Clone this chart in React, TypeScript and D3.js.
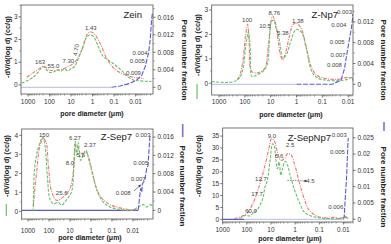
import * as d3 from "d3";

const FONT = "'Liberation Sans', Arial, sans-serif";
const RED = "#f47272";
const GREEN = "#62c462";
const BLUE = "#5a5ad8";
const LAVENDER = "#c6c6f0";

const xTicks = [1000, 100, 10, 1, 0.1, 0.01];
const xTickLabels = ["1000", "100", "10", "1", "0.1", "0.01"];

// Zein
const zeinRed = [[1150, 0.34], [570, 0.54], [230, 0.79], [190, 0.84], [95, 0.65], [33, 0.67], [11, 0.85], [5.4, 1.1], [2.7, 1.69], [1.86, 2.2], [1.3, 2.33], [0.9, 2.28], [0.45, 1.84], [0.22, 1.17], [0.1, 0.73], [0.037, 0.48], [0.0126, 0.34], [0.004, 0.28]];
const zeinGreen = [[1950, 0.08], [570, 0.34], [230, 0.75], [190, 0.8], [135, 0.65], [95, 0.55], [60, 0.58], [40, 0.66], [30, 0.6], [20, 0.7], [14, 0.62], [10, 0.72], [7, 0.8], [5.4, 1.0], [3.2, 1.55], [2, 2.06], [1.4, 2.2], [0.9, 2.13], [0.54, 1.69], [0.32, 1.25], [0.19, 1.1], [0.09, 0.88], [0.044, 0.63], [0.021, 0.34], [0.0126, 0.22], [0.0063, 0.18], [0.0018, 0.15]];
const zeinBlue = [[0.13, 0], [0.052, 0.0003], [0.018, 0.0009], [0.0087, 0.0017], [0.0051, 0.0028], [0.0036, 0.0047], [0.0025, 0.0078], [0.0021, 0.0108], [0.0018, 0.0154], [0.00165, 0.017]];
const zeinBase = [[2120, 0], [0.13, 0]];
const zeinNotes = [["163", 275, 1.0, 0], ["55.0", 66, 0.84, 0], ["7.30", 13.5, 1.06, 0], ["4.70", 5.9, 1.54, -80], ["1.43", 1.2, 2.52, 0], ["0.004", 0.0062, 1.4, 0], ["0.005", 0.0083, 1.06, 0], ["0.009", 0.0126, 0.54, 0]];

// Z-Np7
const np7Red = [[200, 0.15], [163, 0.27], [120, 0.9], [95, 1.9], [78, 2.42], [68, 1.6], [61, 0.6], [50, 0.45], [32, 0.43], [17, 0.6], [13, 1.3], [9.5, 2.58], [8.4, 2.75], [6.2, 2.38], [5.0, 1.63], [4.0, 1.09], [3.4, 0.95], [2.7, 1.22], [1.9, 1.9], [1.4, 2.38], [1.05, 2.47], [0.66, 2.24], [0.42, 1.5], [0.27, 0.68], [0.17, 0.34], [0.083, 0.2], [0.025, 0.16], [0.0103, 0.24], [0.0066, 0.2]];
const np7Green = [[1900, 0.07], [257, 0.07], [141, 0.33], [89, 1.63], [73, 2.1], [61, 1.36], [53, 0.27], [37, 0.33], [20, 0.48], [13.8, 0.74], [11.2, 1.77], [9.5, 2.5], [7.6, 2.58], [6.2, 2.24], [5, 1.97], [4.2, 1.5], [3.4, 1.02], [2.5, 1.16], [1.6, 1.77], [1.05, 2.2], [0.66, 2.1], [0.42, 1.43], [0.27, 0.54], [0.17, 0.24], [0.083, 0.13], [0.025, 0.1], [0.0103, 0.16], [0.0076, 0.24], [0.0065, 0.1]];
const np7Blue = [[1.0, 0], [0.04, 0], [0.034, 0.0002], [0.019, 0.0008], [0.014, 0.0029], [0.012, 0.005], [0.0103, 0.0069], [0.0089, 0.0087], [0.0076, 0.0106], [0.0068, 0.0125], [0.0066, 0.0135]];
const np7Base = [[1920, 0], [1.0, 0]];
const np7Notes = [["100", 82, 2.61, 0], ["10.5", 16.5, 2.34, 0], ["8.76", 7.2, 2.88, 0], ["5.38", 3.4, 2.04, 0], ["1.38", 0.89, 2.55, 0], ["0.003", 0.0139, 2.92, 0], ["0.004", 0.0229, 2.38, 0], ["0.005", 0.0267, 1.7, 0], ["0.007", 0.025, 1.16, 0], ["0.008", 0.034, 0.75, 0]];

// Z-Sep7
const sep7Red = [[560, 0.3], [388, 2.07], [268, 3.47], [186, 3.82], [139, 3.65], [107, 2.42], [74, 1.02], [43, 0.58], [21, 0.75], [10, 1.19], [6.9, 2.07], [5.2, 3.56], [4.0, 3.3], [2.75, 3.03], [1.94, 3.16], [1.5, 3.03], [0.93, 2.24], [0.54, 1.19], [0.31, 0.7], [0.125, 0.35], [0.042, 0.18], [0.014, 0.09], [0.0066, 0.08]];
const sep7Green = [[570, 0], [540, 1.0], [500, 2.07], [360, 3.14], [200, 3.9], [155, 3.47], [120, 1.88], [89, 0.61], [62, 0.4], [36, 0.47], [25, 0.33], [14.5, 0.61], [8.3, 1.05], [6.5, 2.6], [5.6, 3.68], [4.8, 2.95], [4.0, 3.61], [3.1, 2.68], [2.35, 2.95], [1.74, 3.21], [1.29, 2.77], [0.78, 1.81], [0.45, 0.93], [0.26, 0.49], [0.125, 0.23], [0.042, 0.1], [0.0115, 0.05], [0.0047, 0.28], [0.0032, 0.35], [0.0022, 0.23], [0.00155, 0.35], [0.0012, 0.28]];
const sep7Blue = [[0.0056, 0], [0.0047, 0.0032], [0.0042, 0.0048], [0.0038, 0.004], [0.0035, 0.0058], [0.0027, 0.0066], [0.0022, 0.0091], [0.0019, 0.0098], [0.00155, 0.016], [0.0014, 0.0164]];
const sep7Base = [[2000, 0], [0.0056, 0]];
const sep7Notes = [["150", 173, 4.03, 0], ["25.6", 24.8, 0.98, 0], ["6.27", 5.8, 3.86, 0], ["8.0", 10, 2.56, 0], ["5.6", 3.0, 2.98, 0], ["2.37", 1.12, 3.51, 0], ["0.003", 0.0033, 4.03, 0], ["0.005", 0.0042, 2.56, 0], ["0.007", 0.0056, 1.68, 0], ["0.008", 0.029, 0.98, 0]];
const sep7Arrows = [[0.0089, 1.07, 0.0043, 1.38]];

// Z-SepNp7
const sepNp7Red = [[330, 0.28], [127, 1.7], [93, 2.8], [49, 8.0], [26, 16.4], [16.3, 24.1], [11.8, 30.4], [9.5, 33.9], [7.4, 33.2], [5.4, 28.3], [3.9, 24.8], [2.8, 25.5], [2.05, 27.6], [1.5, 27.2], [1.02, 22.7], [0.68, 15.7], [0.42, 8.7], [0.26, 3.8], [0.12, 1.26], [0.045, 0.56], [0.024, 0.84], [0.015, 0.4], [0.0093, 0.84], [0.0058, 0.3]];
const sepNp7Green = [[200, 0.2], [109, 1.7], [75, 1.4], [49, 3.1], [36, 4.2], [22, 8.7], [17.7, 13.6], [14.8, 15.7], [13, 18.5], [10.7, 25.5], [8.6, 31.8], [7.4, 31.1], [6.3, 25.5], [5.4, 21.3], [4.6, 24.1], [3.9, 18.5], [3.3, 21.3], [2.6, 24.4], [2.05, 22.7], [1.6, 18.5], [1.1, 12.9], [0.68, 7.3], [0.42, 3.1], [0.22, 1.4], [0.087, 0.56], [0.033, 0.28], [0.013, 0.4], [0.008, 1.26], [0.0064, 0.3]];
const sepNp7Blue = [[0.0099, 0], [0.0093, 0.0007], [0.0087, 0.0043], [0.0079, 0.0094], [0.0072, 0.0145], [0.0068, 0.0196], [0.0064, 0.0242], [0.0062, 0.0249]];
const sepNp7Base = [[1000, 0], [130, 0]];
const sepNp7Base2 = [[130, 0], [0.0099, 0]];
const sepNp7Notes = [["9.0", 9.1, 35.0, 0], ["2.5", 1.6, 31.1, 0], ["5.6", 4.55, 26.6, 0], ["12.7", 26, 16.8, 0], ["17.7", 38, 10.5, 0], ["60.0", 67, 3.4, 0], ["4.5", 0.23, 16.0, 0], ["0.003", 0.0148, 35.6, 0], ["0.005", 0.0177, 28.3, 0], ["0.006", 0.0207, 5.2, 0]];
const sepNp7Arrows = [[2.1, 16.4, 0.33, 16.1]];

const panels = [
  {
    id: "p1", box: [21, 5, 153, 94], xDomain: [2120, 0.00155], yLeft: [-0.4, 3.52], yRight: [-0.00153, 0.0188],
    leftTicks: [0, 1, 2, 3], leftMinor: [0.5, 1.5, 2.5, 3.5],
    rightTicks: [0, 0.004, 0.008, 0.012, 0.016], rightLabels: ["0", "0.004", "0.008", "0.012", "0.016"], rightMinor: [0.002, 0.006, 0.01, 0.014, 0.018],
    red: zeinRed, green: zeinGreen, blue: zeinBlue, bases: [[zeinBase, LAVENDER]], notes: zeinNotes, arrows: [],
    title: "Zein", titleX: 142, titleY: 18, xLabelY: 103.5, xTitleX: 92, xTitleY: 116,
    leftTitleX: 10, leftTitleY: 47, rightTitleX: 181.5, rightTitleY: 60, greenLegend: null, blueLegend: null,
  },
  {
    id: "p2", box: [211.7, 5, 353, 95], xDomain: [1920, 0.0065], yLeft: [-0.48, 3.2], yRight: [-0.00206, 0.01525],
    leftTicks: [0, 1, 2, 3], leftMinor: [0.5, 1.5, 2.5],
    rightTicks: [0, 0.004, 0.008, 0.012], rightLabels: ["0", "0.004", "0.008", "0.012"], rightMinor: [0.002, 0.006, 0.01, 0.014],
    red: np7Red, green: np7Green, blue: np7Blue, bases: [[np7Base, LAVENDER]], notes: np7Notes, arrows: [],
    title: "Z-Np7", titleX: 338, titleY: 17.5, xLabelY: 104, xTitleX: 291, xTitleY: 117,
    leftTitleX: 200, leftTitleY: 45, rightTitleX: 381.3, rightTitleY: 60, greenLegend: [197, 84, 99], blueLegend: null,
  },
  {
    id: "p3", box: [21.7, 129, 153, 219], xDomain: [2000, 0.0011], yLeft: [-0.405, 4.33], yRight: [-0.0019, 0.01777],
    leftTicks: [0, 1, 2, 3, 4], leftMinor: [0.5, 1.5, 2.5, 3.5],
    rightTicks: [0, 0.004, 0.008, 0.012, 0.016], rightLabels: ["0", "0.004", "0.008", "0.012", "0.016"], rightMinor: [0.002, 0.006, 0.01, 0.014],
    red: sep7Red, green: sep7Green, blue: sep7Blue, bases: [[sep7Base, BLUE]], notes: sep7Notes, arrows: sep7Arrows,
    title: "Z-Sep7", titleX: 132, titleY: 140, xLabelY: 233, xTitleX: 90, xTitleY: 240,
    leftTitleX: 9.3, leftTitleY: 166, rightTitleX: 179.7, rightTitleY: 186, greenLegend: [6.3, 204, 216], blueLegend: [182.7, 124, 137],
  },
  {
    id: "p4", box: [222.7, 128, 353, 222], xDomain: [1000, 0.004], yLeft: [-1.13, 38.4], yRight: [-0.00083, 0.028],
    leftTicks: [0, 5, 10, 15, 20, 25, 30, 35], leftMinor: [],
    rightTicks: [0, 0.005, 0.01, 0.015, 0.02, 0.025], rightLabels: ["0", "0.005", "0.01", "0.015", "0.02", "0.025"], rightMinor: [],
    red: sepNp7Red, green: sepNp7Green, blue: sepNp7Blue, bases: [[sepNp7Base, BLUE], [sepNp7Base2, LAVENDER]], notes: sepNp7Notes, arrows: sepNp7Arrows,
    title: "Z-SepNp7", titleX: 331, titleY: 141, xLabelY: 232, xTitleX: 290, xTitleY: 241,
    leftTitleX: 201, leftTitleY: 166, rightTitleX: 381, rightTitleY: 187, greenLegend: null, blueLegend: [384, 122, 131],
  },
];

function Panel(p) {
  const [l, t, r, b] = p.box;
  const x = d3.scaleLog().domain(p.xDomain).range([l, r]);
  const yL = d3.scaleLinear().domain(p.yLeft).range([b, t]);
  const yR = d3.scaleLinear().domain(p.yRight).range([b, t]);
  const lineL = d3.line().x(d => x(d[0])).y(d => yL(d[1])).curve(d3.curveCatmullRom.alpha(0.5));
  const lineR = d3.line().x(d => x(d[0])).y(d => yR(d[1]));

  const lo = Math.min(...p.xDomain), hi = Math.max(...p.xDomain);
  const minor = [];
  for (let e = -4; e <= 3; e++) for (let m = 2; m <= 9; m++) {
    const v = m * Math.pow(10, e);
    if (v >= lo && v <= hi) minor.push(v);
  }
  const ax = "#555";

  return (
    <g>
      <defs>
        <clipPath id={"clip-" + p.id}><rect x={l} y={t} width={r - l} height={b - t} /></clipPath>
      </defs>
      <g clipPath={`url(#clip-${p.id})`} fill="none" strokeWidth={1.1}>
        {p.bases.map((s, i) => <path key={"b" + i} d={lineR(s[0])} stroke={s[1]} strokeWidth={1.2} />)}
        <path d={lineL(p.red)} stroke={RED} strokeDasharray="3.5,1.2,1,1.2" />
        <path d={lineL(p.green)} stroke={GREEN} strokeDasharray="3,1.4" />
        <path d={lineR(p.blue)} stroke={BLUE} strokeDasharray="5,1.5" />
      </g>
      <rect x={l} y={t} width={r - l} height={b - t} fill="none" stroke={ax} strokeWidth={0.8} />
      {xTicks.map((v, i) => (
        <g key={v}>
          <line x1={x(v)} x2={x(v)} y1={b} y2={b + 2.5} stroke={ax} strokeWidth={0.8} />
          <text x={x(v)} y={p.xLabelY} textAnchor="middle" fontSize={6.5} fill="#333">{xTickLabels[i]}</text>
        </g>
      ))}
      {minor.map(v => <line key={"m" + v} x1={x(v)} x2={x(v)} y1={b} y2={b + 1.5} stroke={ax} strokeWidth={0.6} />)}
      {p.leftTicks.map(v => (
        <g key={"l" + v}>
          <line x1={l - 2.5} x2={l} y1={yL(v)} y2={yL(v)} stroke={ax} strokeWidth={0.8} />
          <text x={l - 3.5} y={yL(v)} dy="0.35em" textAnchor="end" fontSize={6.5} fill="#333">{v}</text>
        </g>
      ))}
      {p.leftMinor.map(v => <line key={"lm" + v} x1={l - 1.5} x2={l} y1={yL(v)} y2={yL(v)} stroke={ax} strokeWidth={0.6} />)}
      {p.rightTicks.map((v, i) => (
        <g key={"r" + v}>
          <line x1={r} x2={r + 2.5} y1={yR(v)} y2={yR(v)} stroke={ax} strokeWidth={0.8} />
          <text x={r + 4.5} y={yR(v)} dy="0.35em" fontSize={6.5} fill="#333">{p.rightLabels[i]}</text>
        </g>
      ))}
      {p.rightMinor.filter(v => v <= p.yRight[1]).map(v => <line key={"rm" + v} x1={r} x2={r + 1.5} y1={yR(v)} y2={yR(v)} stroke={ax} strokeWidth={0.6} />)}
      {p.notes.map((n, i) => (
        <text key={"n" + i} x={x(n[1])} y={yL(n[2])} dy="0.35em" textAnchor="middle" fontSize={6} fill="#444"
          transform={n[3] ? `rotate(${n[3]},${x(n[1])},${yL(n[2])})` : undefined}>{n[0]}</text>
      ))}
      {p.arrows.map((a, i) => {
        const x1 = x(a[0]), y1 = yL(a[1]), x2 = x(a[2]), y2 = yL(a[3]);
        const ang = Math.atan2(y2 - y1, x2 - x1);
        const h = 2.2;
        return (
          <g key={"a" + i} stroke="#333" strokeWidth={0.6} fill="#333">
            <line x1={x1} y1={y1} x2={x2} y2={y2} strokeDasharray={p.id === "p4" ? "1.5,1" : undefined} />
            <path d={`M${x2},${y2}L${x2 - h * Math.cos(ang - 0.45)},${y2 - h * Math.sin(ang - 0.45)}L${x2 - h * Math.cos(ang + 0.45)},${y2 - h * Math.sin(ang + 0.45)}Z`} />
          </g>
        );
      })}
      <text x={p.titleX} y={p.titleY} textAnchor="end" fontSize={9.5} fill="#222">{p.title}</text>
      <text x={p.xTitleX} y={p.xTitleY} textAnchor="middle" fontSize={7} fontWeight="bold" fill="#222">pore diameter (μm)</text>
      <text transform={`translate(${p.leftTitleX},${p.leftTitleY}) rotate(-90)`} textAnchor="middle" fontSize={7.3} fontWeight="bold" fill="#222">-dV/d(log d) (cc/g)</text>
      <text transform={`translate(${p.rightTitleX},${p.rightTitleY}) rotate(90)`} textAnchor="middle" fontSize={8} fontWeight="bold" fill="#222">Pore number fraction</text>
      {p.greenLegend && <line x1={p.greenLegend[0]} x2={p.greenLegend[0]} y1={p.greenLegend[1]} y2={p.greenLegend[2]} stroke={GREEN} strokeWidth={1.2} />}
      {p.blueLegend && <line x1={p.blueLegend[0]} x2={p.blueLegend[0]} y1={p.blueLegend[1]} y2={p.blueLegend[2]} stroke="#7474e0" strokeWidth={1.6} />}
    </g>
  );
}

export default function App() {
  return (
    <svg width={391} height={244} style={{ position: "absolute", left: 0, top: 0 }} fontFamily={FONT}>
      <rect width={391} height={244} fill="white" />
      {panels.map(p => <Panel key={p.id} {...p} />)}
    </svg>
  );
}
